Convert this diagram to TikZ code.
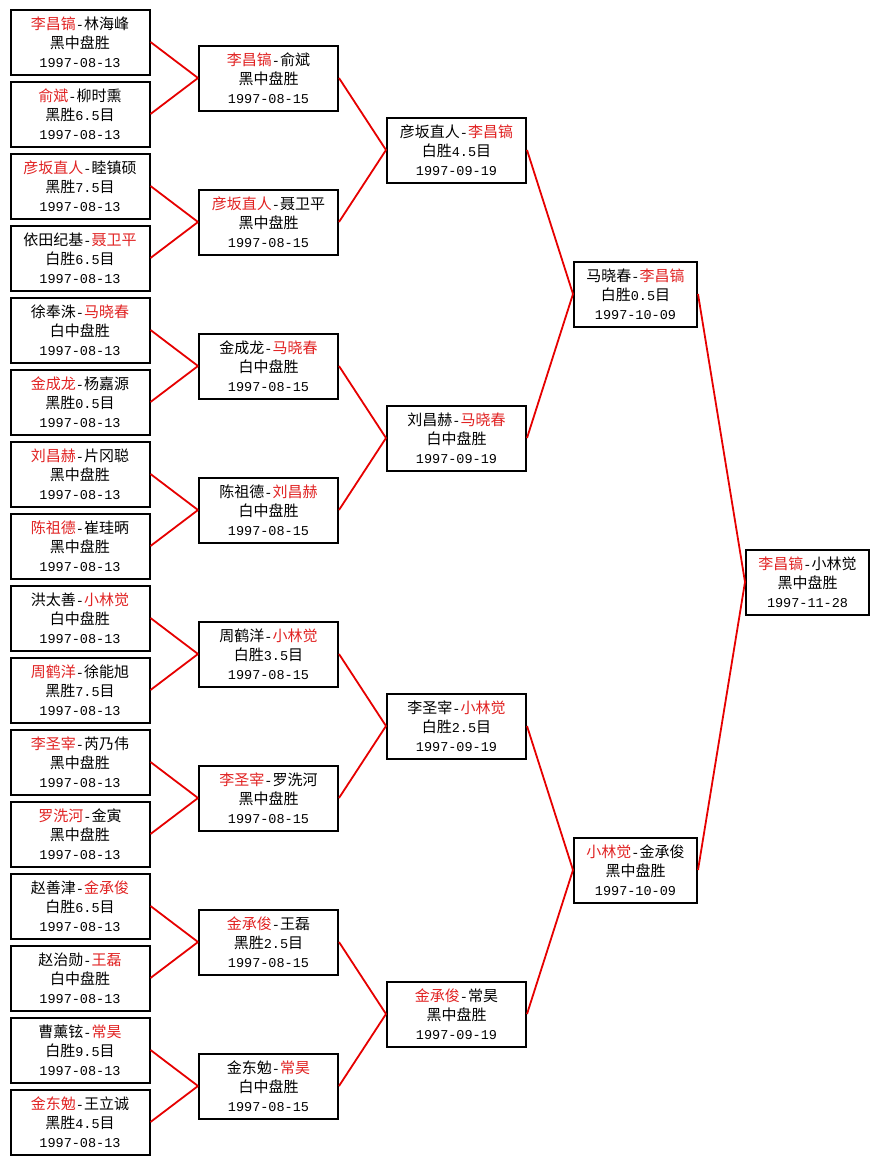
\documentclass[tikz,border=0pt]{standalone}
\usepackage{fontspec}
\setmainfont{Noto Sans CJK SC}
\newfontfamily\monof{Liberation Mono}
\definecolor{nred}{RGB}{225,35,35}
\definecolor{lred}{RGB}{230,0,0}
\newcommand\rn[1]{\textcolor{nred}{#1}}
\newcommand\M[1]{{\monof\fontsize{13.5}{19}\selectfont #1}}
\newcommand\hy{\M{-}}
\tikzset{
  gbox/.style={draw=black, line width=2pt, fill=white, minimum height=65pt, inner sep=0pt,
    align=center, font=\fontsize{15}{19}\selectfont},
  wideb/.style={gbox, minimum width=139pt},
  narrowb/.style={gbox, minimum width=123pt},
  conn/.style={draw=lred, line width=1.8pt}
}
\newcommand\game[7]{\node[#2] (#1) at (#3,#4) {#5\\#6\\\M{#7}};}
\begin{document}
\begin{tikzpicture}[x=1pt,y=-1pt]
\useasboundingbox[fill=white] (0,0) rectangle (879,1165);
% level 0
\game{a1}{wideb}{80}{42}{\rn{李昌镐}\hy 林海峰}{黑中盘胜}{1997-08-13}
\game{a2}{wideb}{80}{114}{\rn{俞斌}\hy 柳时熏}{黑胜\M{6.5}目}{1997-08-13}
\game{a3}{wideb}{80}{186}{\rn{彦坂直人}\hy 睦镇硕}{黑胜\M{7.5}目}{1997-08-13}
\game{a4}{wideb}{80}{258}{依田纪基\hy\rn{聂卫平}}{白胜\M{6.5}目}{1997-08-13}
\game{a5}{wideb}{80}{330}{徐奉洙\hy\rn{马晓春}}{白中盘胜}{1997-08-13}
\game{a6}{wideb}{80}{402}{\rn{金成龙}\hy 杨嘉源}{黑胜\M{0.5}目}{1997-08-13}
\game{a7}{wideb}{80}{474}{\rn{刘昌赫}\hy 片冈聪}{黑中盘胜}{1997-08-13}
\game{a8}{wideb}{80}{546}{\rn{陈祖德}\hy 崔珪昞}{黑中盘胜}{1997-08-13}
\game{a9}{wideb}{80}{618}{洪太善\hy\rn{小林觉}}{白中盘胜}{1997-08-13}
\game{a10}{wideb}{80}{690}{\rn{周鹤洋}\hy 徐能旭}{黑胜\M{7.5}目}{1997-08-13}
\game{a11}{wideb}{80}{762}{\rn{李圣宰}\hy 芮乃伟}{黑中盘胜}{1997-08-13}
\game{a12}{wideb}{80}{834}{\rn{罗洗河}\hy 金寅}{黑中盘胜}{1997-08-13}
\game{a13}{wideb}{80}{906}{赵善津\hy\rn{金承俊}}{白胜\M{6.5}目}{1997-08-13}
\game{a14}{wideb}{80}{978}{赵治勋\hy\rn{王磊}}{白中盘胜}{1997-08-13}
\game{a15}{wideb}{80}{1050}{曹薰铉\hy\rn{常昊}}{白胜\M{9.5}目}{1997-08-13}
\game{a16}{wideb}{80}{1122}{\rn{金东勉}\hy 王立诚}{黑胜\M{4.5}目}{1997-08-13}
% level 1
\game{b1}{wideb}{268.5}{78}{\rn{李昌镐}\hy 俞斌}{黑中盘胜}{1997-08-15}
\game{b2}{wideb}{268.5}{222}{\rn{彦坂直人}\hy 聂卫平}{黑中盘胜}{1997-08-15}
\game{b3}{wideb}{268.5}{366}{金成龙\hy\rn{马晓春}}{白中盘胜}{1997-08-15}
\game{b4}{wideb}{268.5}{510}{陈祖德\hy\rn{刘昌赫}}{白中盘胜}{1997-08-15}
\game{b5}{wideb}{268.5}{654}{周鹤洋\hy\rn{小林觉}}{白胜\M{3.5}目}{1997-08-15}
\game{b6}{wideb}{268.5}{798}{\rn{李圣宰}\hy 罗洗河}{黑中盘胜}{1997-08-15}
\game{b7}{wideb}{268.5}{942}{\rn{金承俊}\hy 王磊}{黑胜\M{2.5}目}{1997-08-15}
\game{b8}{wideb}{268.5}{1086}{金东勉\hy\rn{常昊}}{白中盘胜}{1997-08-15}
% level 2
\game{c1}{wideb}{456.5}{150}{彦坂直人\hy\rn{李昌镐}}{白胜\M{4.5}目}{1997-09-19}
\game{c2}{wideb}{456.5}{438}{刘昌赫\hy\rn{马晓春}}{白中盘胜}{1997-09-19}
\game{c3}{wideb}{456.5}{726}{李圣宰\hy\rn{小林觉}}{白胜\M{2.5}目}{1997-09-19}
\game{c4}{wideb}{456.5}{1014}{\rn{金承俊}\hy 常昊}{黑中盘胜}{1997-09-19}
% level 3
\game{d1}{narrowb}{635.5}{294}{马晓春\hy\rn{李昌镐}}{白胜\M{0.5}目}{1997-10-09}
\game{d2}{narrowb}{635.5}{870}{\rn{小林觉}\hy 金承俊}{黑中盘胜}{1997-10-09}
% final
\game{e1}{narrowb}{807.5}{582}{\rn{李昌镐}\hy 小林觉}{黑中盘胜}{1997-11-28}
% connectors
\foreach \c/\p in {a1/b1,a2/b1,a3/b2,a4/b2,a5/b3,a6/b3,a7/b4,a8/b4,a9/b5,a10/b5,a11/b6,a12/b6,a13/b7,a14/b7,a15/b8,a16/b8,
  b1/c1,b2/c1,b3/c2,b4/c2,b5/c3,b6/c3,b7/c4,b8/c4,c1/d1,c2/d1,c3/d2,c4/d2,d1/e1,d2/e1}
  \draw[conn] (\c.east) -- (\p.west);
\end{tikzpicture}
\end{document}
